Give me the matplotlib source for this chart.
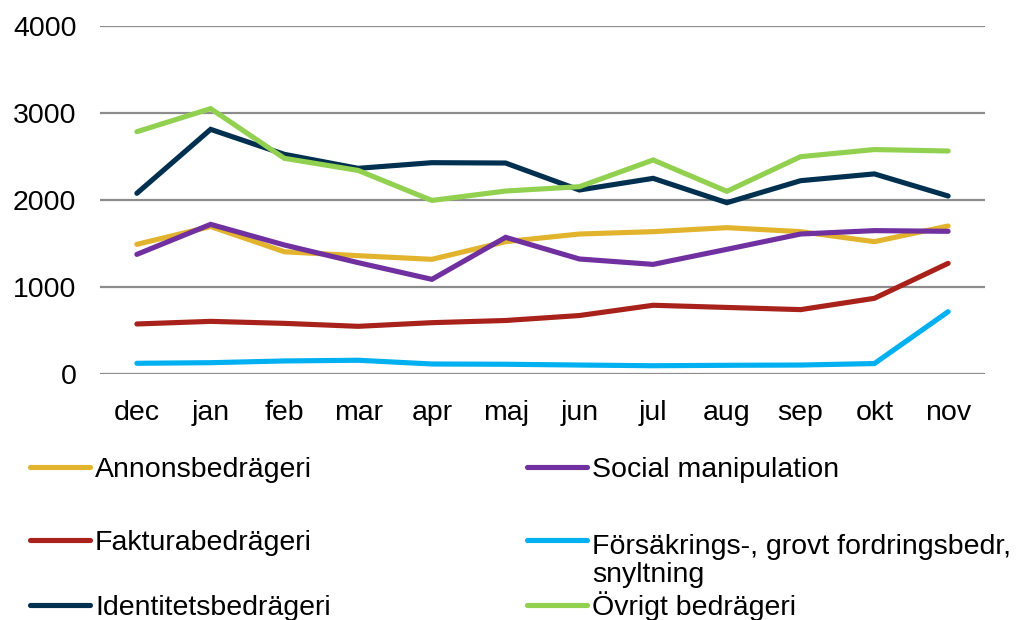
import matplotlib
matplotlib.use("Agg")
import matplotlib.pyplot as plt
from matplotlib.lines import Line2D

plt.rcParams['font.family'] = ['Liberation Sans', 'DejaVu Sans']

months = ["dec", "jan", "feb", "mar", "apr", "maj", "jun", "jul", "aug", "sep", "okt", "nov"]

annons = [1490, 1695, 1405, 1360, 1318, 1521, 1609, 1636, 1682, 1636, 1521, 1701]
faktura = [575, 605, 582, 548, 590, 615, 672, 790, 765, 740, 870, 1272]
identitet = [2077, 2812, 2525, 2364, 2429, 2425, 2115, 2249, 1969, 2222, 2300, 2046]
social = [1375, 1720, 1483, 1280, 1088, 1571, 1322, 1260, 1433, 1609, 1648, 1640]
forsakring = [123, 130, 150, 158, 115, 112, 103, 95, 100, 103, 120, 716]
ovrigt = [2785, 3050, 2479, 2340, 1995, 2103, 2153, 2460, 2100, 2498, 2580, 2563]

labels = ["Annonsbedrägeri", "Fakturabedrägeri", "Identitetsbedrägeri",
          "Social manipulation", "Försäkrings-, grovt fordringsbedr,\nsnyltning",
          "Övrigt bedrägeri"]
series = [annons, faktura, identitet, social, forsakring, ovrigt]
colors = ["#E2B32C", "#A8211A", "#00304F", "#7030A0", "#00B0F0", "#92D050"]

yticks = [0, 1000, 2000, 3000, 4000]

fig = plt.figure(figsize=(10.21, 6.2), dpi=100)
ax = fig.add_axes([100/1021, 1-374/620, 885/1021, 348/620])

x = list(range(len(months)))
for vals, c, lab in zip(series, colors, labels):
    ax.plot(x, vals, color=c, lw=3.7, solid_capstyle='round', solid_joinstyle='miter', zorder=3, label=lab)

ax.set_xlim(-0.5, len(months) - 0.5)
ax.set_ylim(0, 4000)
ax.set_yticks(yticks)
ax.set_yticklabels([str(v) for v in yticks])
ax.set_xticks(x)
ax.set_xticklabels(months)
ax.tick_params(axis='both', length=0, labelsize=20.5, colors='black')
ax.tick_params(axis='y', pad=17)
ax.tick_params(axis='x', pad=19)
for s in ax.spines.values():
    s.set_visible(False)
for v in yticks:
    ax.axhline(v, color='#8C8C8C', lw=1.6, zorder=1)

# legend (manual layout); baseline of last text line given
pos = [(30, 467, 477), (30, 540, 550), (30, 605, 615),
       (527, 467, 477), (527, 540, 582), (527, 605, 615)]
for (lx, ly, by), c, lab in zip(pos, colors, labels):
    fig.add_artist(Line2D([lx/1021, (lx+60)/1021], [1-ly/620, 1-ly/620],
                          color=c, lw=3.7, solid_capstyle='round', transform=fig.transFigure))
    fig.text((lx+65)/1021, 1-by/620, lab, fontsize=20.5, va='baseline', ha='left',
             linespacing=1.1)

fig.savefig("out.png", dpi=100)
